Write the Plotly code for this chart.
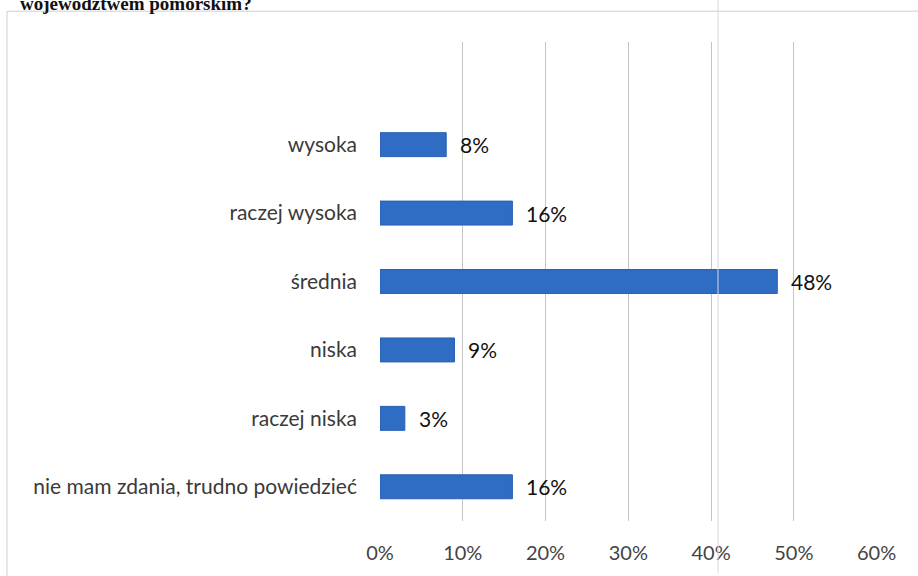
import plotly.graph_objects as go

categories = ["nie mam zdania, trudno powiedzieć", "raczej niska", "niska", "średnia", "raczej wysoka", "wysoka"]
values = [16, 3, 9, 48, 16, 8]
tick_vals = [0, 10, 20, 30, 40, 50, 60]
tick_text = ["0%", "10%", "20%", "30%", "40%", "50%", "60%"]
title_text = "województwem pomorskim?"

W, H = 918, 576
L, R, T, B = 380, 41, 42, 52
pw, ph = W - L - R, H - T - B

def px2x(px):
    return (px - L) / pw

def py2y(py):
    return (H - B - py) / ph

FONT = "Lato, Open Sans, sans-serif"

fig = go.Figure()
fig.add_trace(go.Bar(
    y=categories, x=values, orientation="h",
    marker=dict(color="#2F6CC4", line=dict(color="#2A60B0", width=1)),
    width=0.35, hoverinfo="skip",
))

annotations = []
for c, v in zip(categories, values):
    annotations.append(dict(x=v, y=c, xref="x", yref="y", text=f"{v}%", showarrow=False,
                            xanchor="left", xshift=12,
                            font=dict(family=FONT, size=21, color="#111111")))
annotations.append(dict(x=px2x(18), y=py2y(16), xref="paper", yref="paper", text=f"<b>{title_text}</b>",
                        showarrow=False, xanchor="left", yanchor="bottom",
                        font=dict(family="Liberation Serif, serif", size=19, color="#111111")))

shapes = [
    dict(type="rect", xref="paper", yref="paper", x0=px2x(7), x1=px2x(930), y0=py2y(590), y1=py2y(11),
         line=dict(color="#c9cfdc", width=1), fillcolor="rgba(0,0,0,0)", layer="below"),
    dict(type="line", xref="paper", yref="paper", x0=px2x(718), x1=px2x(718), y0=py2y(576), y1=py2y(0),
         line=dict(color="#d8d8d8", width=1)),
]

fig.update_layout(
    width=W, height=H,
    margin=dict(l=L, r=R, t=T, b=B),
    paper_bgcolor="white", plot_bgcolor="white",
    showlegend=False,
    annotations=annotations, shapes=shapes,
    xaxis=dict(range=[0, 60.05], tickvals=tick_vals, ticktext=tick_text,
               showgrid=True, gridcolor="#c4c4c4", gridwidth=1, zeroline=False, showline=False,
               ticks="", ticklabelstandoff=18,
               tickfont=dict(family=FONT, size=20, color="#444444"),
               fixedrange=True),
    yaxis=dict(categoryorder="array", categoryarray=categories, range=[-0.5, 6.5],
               showgrid=False, zeroline=False, showline=False, ticks="", ticklabelstandoff=22,
               tickfont=dict(family=FONT, size=21, color="#3a3a3a"),
               fixedrange=True),
)

fig.write_html("out.html", config={"displayModeBar": False},
               post_script="document.body.style.margin='0';")
